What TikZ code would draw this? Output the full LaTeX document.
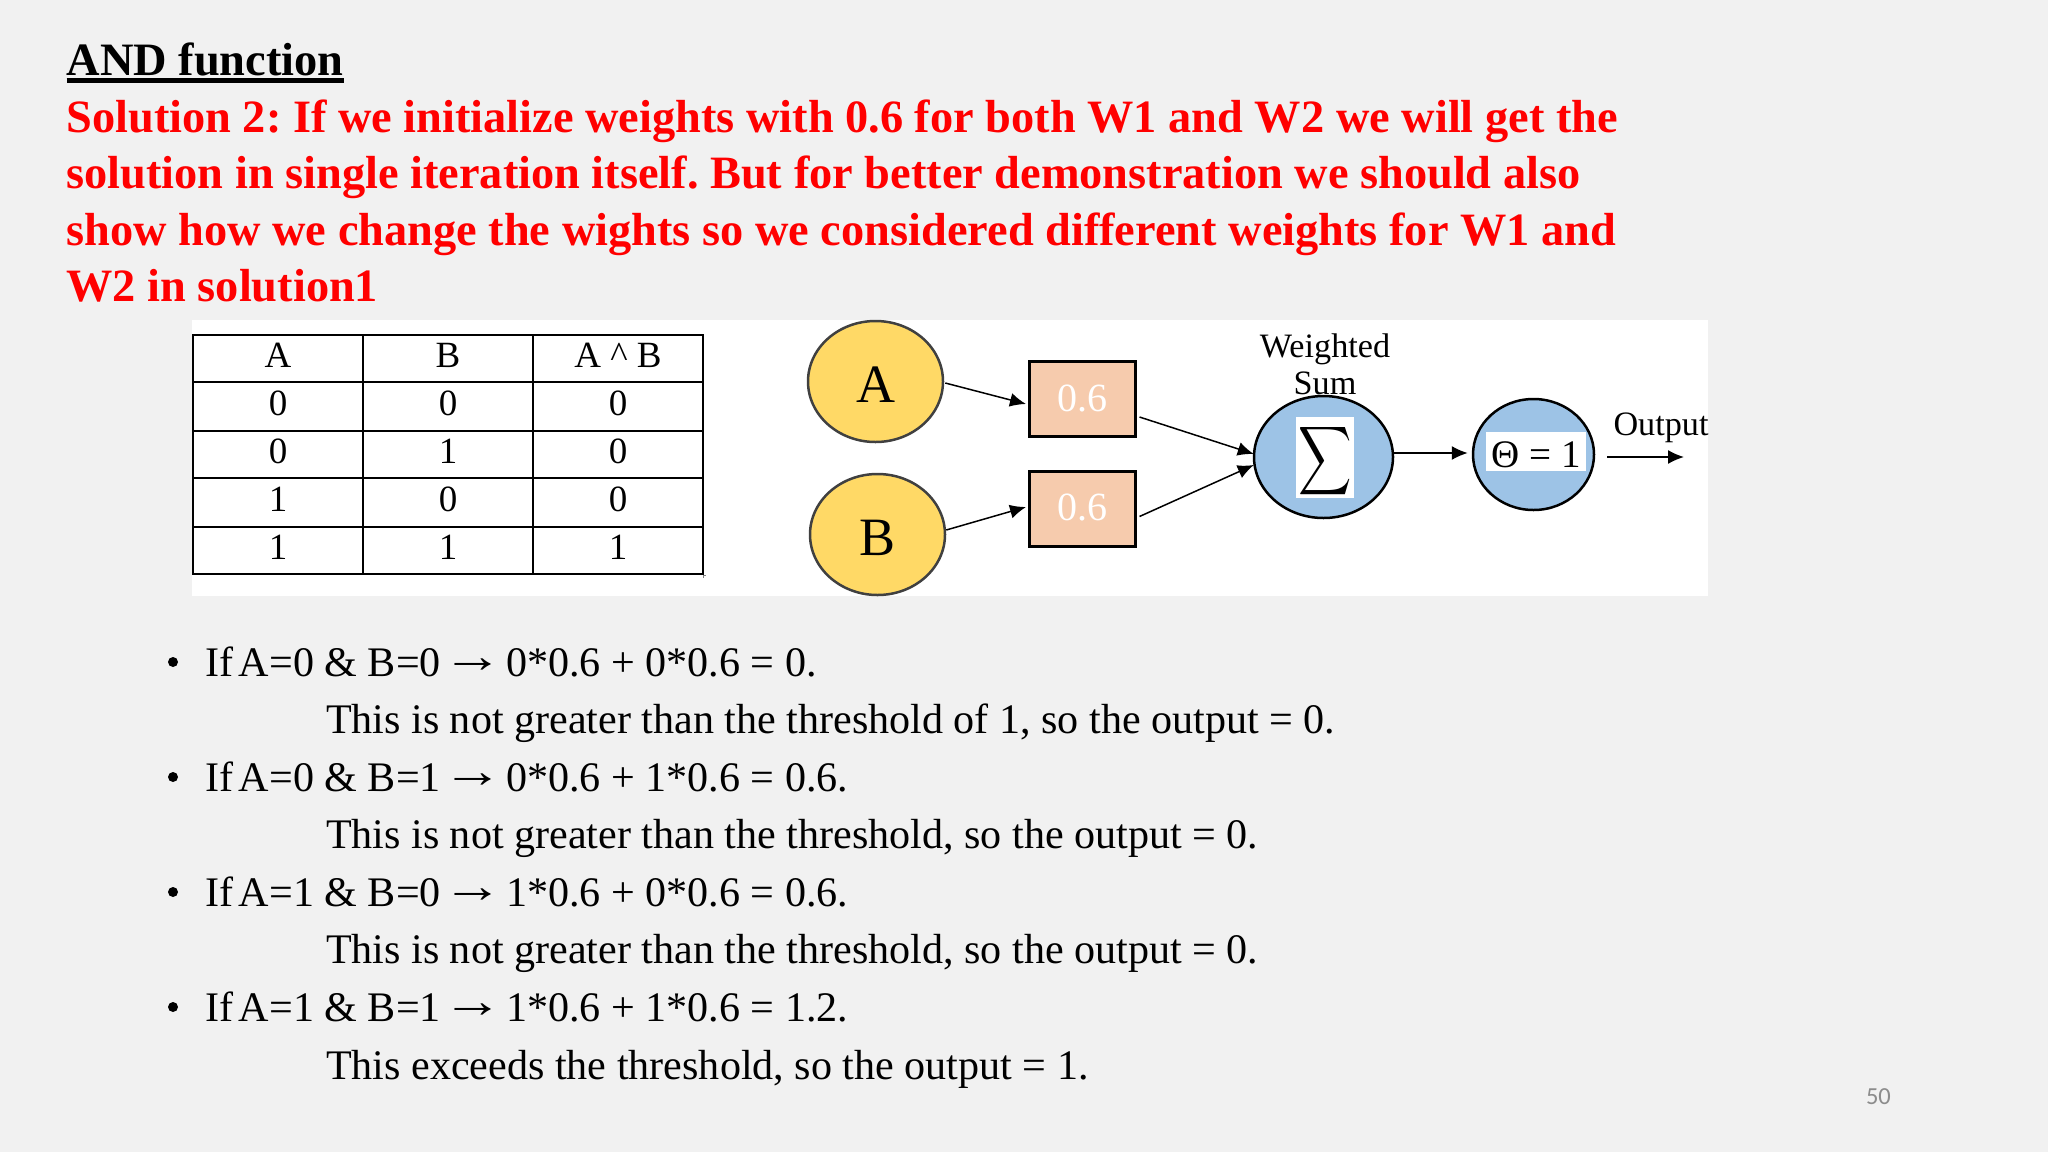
\documentclass[tikz,border=0pt]{standalone}
\usepackage{fontspec}
\usepackage{graphicx}
\setmainfont{Liberation Serif}
\newfontfamily\pagefont{Carlito}
\usetikzlibrary{arrows.meta,shapes.geometric,calc}
\definecolor{pagebg}{HTML}{F1F1F1}
\definecolor{inyellow}{HTML}{FFD966}
\definecolor{wpeach}{HTML}{F6CBAD}
\definecolor{sumblue}{HTML}{9DC3E6}
\definecolor{edgegray}{HTML}{404040}
\newcommand{\fs}[1]{\fontsize{#1}{#1}\selectfont}
\newcommand{\imp}{\hspace{.05em}\raisebox{4pt}{\scalebox{1.45}[1.15]{→}}\hspace{.05em}}
\newcommand{\tsp}{\hspace{.14em}}
\newcommand{\low}[2]{\raisebox{-#1pt}[0pt][0pt]{#2}}
\frenchspacing
\tikzset{
  x=1pt,y=-1pt,
  txt/.style={anchor=base west,inner sep=0pt,outer sep=0pt},
  title/.style={txt,font=\fs{46.4}\bfseries},
  head/.style={txt,font=\fs{46.35}\bfseries,text=red},
  body/.style={txt,font=\fs{42.1}},
  cell/.style={draw=black,line width=1.5pt,minimum width=170pt,inner sep=0pt,font=\fs{37}},
  innode/.style={ellipse,draw=edgegray,line width=2.5pt,fill=inyellow,minimum width=135pt,minimum height=121pt,inner sep=0pt,font=\fs{54}},
  wbox/.style={rectangle,draw=black,line width=3pt,fill=wpeach,minimum width=106pt,minimum height=75pt,inner sep=0pt,text=white,font=\fs{40}},
  neuron/.style={ellipse,draw=black,line width=2.5pt,fill=sumblue,inner sep=0pt},
  lab/.style={inner sep=0pt,font=\fs{34.2}},
  arr/.style={draw=black,line width=1.5pt,-{Latex[length=16pt,width=14pt]}},
  bul/.style={circle,fill=black,minimum size=10pt,inner sep=0pt}
}
\begin{document}
\begin{tikzpicture}
\useasboundingbox (0,0) rectangle (2048,1152);
\fill[pagebg] (0,0) rectangle (2048,1152);
\fill[white] (192,320) rectangle (1708,596);
% heading
\node[title] (t0) at (66.5,75.5) {AND function};
\draw[black,line width=5pt] ([yshift=-5pt]t0.base west) -- ([yshift=-5pt]t0.base east);
\node[head] (h1) at (66.5,132.5) {Solution 2: If we initialize weights with 0.6 for both W1 and W2 we will get the};
\node[head] (h2) at (66.5,188.5) {solution in single iteration itself. But for better demonstration we should also};
\node[head] (h3) at (66.5,245.5) {show how we change the wights so we considered different weights for W1 and};
\node[head] (h4) at (66.5,301.5) {W2 in solution1};
% table
\foreach \r/\yc/\hh/\a/\b/\c in {0/358.5/47/A/B/A \^{} B,1/406.5/49/0/0/0,2/454.5/47/0/1/0,3/502.5/49/1/0/0,4/550.5/47/1/1/1}{
  \node[cell,minimum height=\hh pt] (c\r a) at (278,\yc) {\low{8.5}{\a}};
  \node[cell,minimum height=\hh pt] (c\r b) at (448,\yc) {\low{8.5}{\b}};
  \node[cell,minimum height=\hh pt] (c\r c) at (618,\yc) {\low{8.5}{\c}};
}
\coordinate (tickA) at (703,578);
\coordinate (tickB) at (703,575);
\coordinate (tickC) at (706,575);
\draw[gray,line width=.8pt] (tickA) -- (tickB) -- (tickC);
% network
\node[innode] (nA) at (875.5,381.5) {\low{20.5}{A}};
\node[innode] (nB) at (877.5,534.5) {\low{20.5}{B}};
\node[wbox] (wA) at (1082,399) {\low{12}{0.6}};
\node[wbox] (wB) at (1082,508.5) {\low{12}{0.6}};
\node[neuron,minimum width=139pt,minimum height=122pt] (nS) at (1323.5,457) {};
\node[fill=white,minimum width=58pt,minimum height=81pt,inner sep=0pt] (sg) at (1325,457.5) {};
\node[inner sep=0pt] (sgs) at (1325,461) {\scalebox{3.7}[4.8]{$\displaystyle\sum$}};
\node[neuron,minimum width=121pt,minimum height=111pt] (nT) at (1533.5,454.5) {};
\node[fill=white,minimum width=100pt,minimum height=39pt,inner sep=0pt,font=\fs{39}] (th) at (1536,451.5) {\low{15.6}{Θ = 1}};
\node[lab] (l1) at (1325,349.5) {Weighted};
\node[lab] (l2) at (1325,383) {Sum};
\node[lab] (l3) at (1661,428) {Output};
\coordinate (outA) at (1607,457);
\coordinate (outB) at (1684,457);
\draw[arr] ([xshift=1pt,yshift=-1.5pt]nA.east) -- ([yshift=-5pt,xshift=-1.5pt]wA.west);
\draw[arr] ([yshift=4.5pt]nB.east) -- ([yshift=1.5pt,xshift=-1.5pt]wB.west);
\draw[arr] ([xshift=3pt,yshift=-18pt]wA.east) -- ([yshift=3pt,xshift=1pt]nS.west);
\draw[arr] ([xshift=3pt,yshift=-8pt]wB.east) -- ([yshift=-8pt,xshift=1pt]nS.west);
\draw[arr] ([yshift=4pt]nS.east) -- ([yshift=1.5pt,xshift=-4pt]nT.west);
\draw[arr] (outA) -- (outB);
% bullets
\foreach \n/\yy in {1/662,2/777,3/892,4/1007}{\node[bul] (b\n) at (173,\yy) {};}
\node[body] (p1) at (205,676) {If\tsp A=0 \& B=0\imp 0*0.6 + 0*0.6 = 0.};
\node[body] (p2) at (326,733.5) {This is not greater than the threshold of 1, so the output = 0.};
\node[body] (p3) at (205,791) {If\tsp A=0 \& B=1\imp 0*0.6 + 1*0.6 = 0.6.};
\node[body] (p4) at (326,848.5) {This is not greater than the threshold, so the output = 0.};
\node[body] (p5) at (205,906) {If\tsp A=1 \& B=0\imp 1*0.6 + 0*0.6 = 0.6.};
\node[body] (p6) at (326,963.5) {This is not greater than the threshold, so the output = 0.};
\node[body] (p7) at (205,1021) {If\tsp A=1 \& B=1\imp 1*0.6 + 1*0.6 = 1.2.};
\node[body] (p8) at (326,1079.5) {This exceeds the threshold, so the output = 1.};
\node[txt,font=\fs{24.5}\pagefont,text=gray!90] (pg) at (1866,1104) {50};
\end{tikzpicture}
\end{document}
